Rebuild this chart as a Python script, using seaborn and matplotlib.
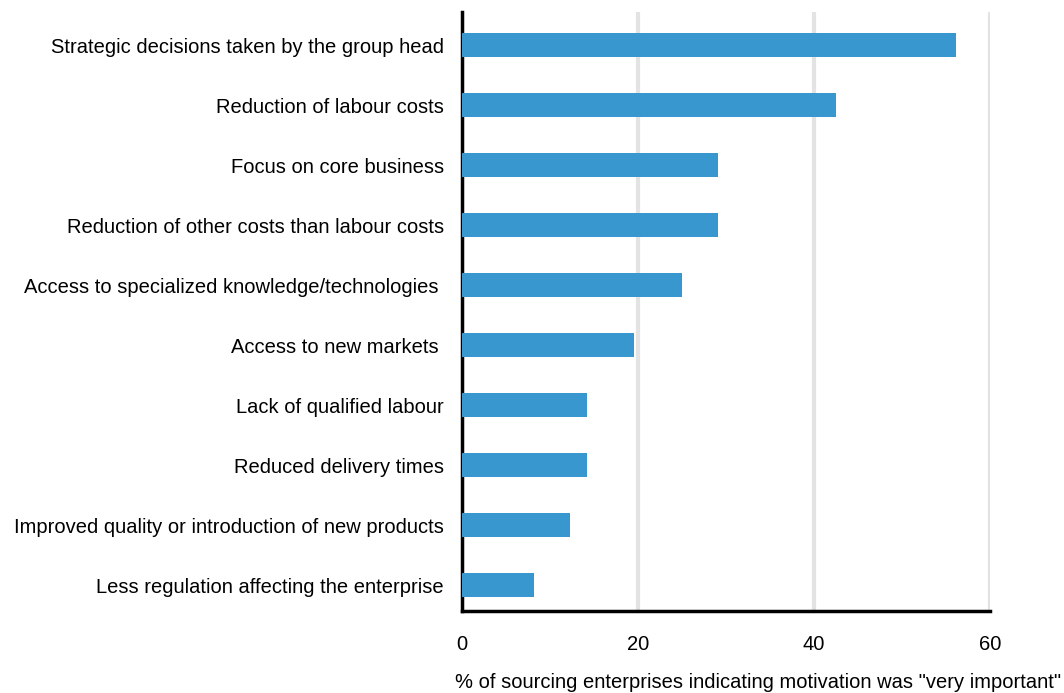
import matplotlib
matplotlib.use('Agg')
import matplotlib.pyplot as plt
import seaborn as sns
import pandas as pd

motivations = [
    'Strategic decisions taken by the group head',
    'Reduction of labour costs',
    'Focus on core business',
    'Reduction of other costs than labour costs',
    'Access to specialized knowledge/technologies ',
    'Access to new markets ',
    'Lack of qualified labour',
    'Reduced delivery times',
    'Improved quality or introduction of new products',
    'Less regulation affecting the enterprise',
]
shares = [56.1, 42.5, 29.1, 29.1, 25.0, 19.6, 14.2, 14.2, 12.3, 8.2]
x_ticks = [0, 20, 40, 60]
x_label = '% of sourcing enterprises indicating motivation was "very important"'

df = pd.DataFrame({'motivation': motivations, 'share': shares})

sns.set_style('white')
plt.rcParams['font.family'] = ['Liberation Sans', 'DejaVu Sans']
plt.rcParams['text.color'] = 'black'
plt.rcParams['xtick.color'] = 'black'
plt.rcParams['ytick.color'] = 'black'

fig = plt.figure(figsize=(10.64, 6.93), dpi=100)
ax = fig.add_axes([462 / 1064, 1 - 611 / 693, (990 - 462) / 1064, (611 - 12) / 693])

sns.barplot(data=df, x='share', y='motivation', color='#3797ce', width=0.4,
            saturation=1, linewidth=0, ax=ax, zorder=3)

ax.set_xlim(0, 60)
ax.set_ylim(9.43, -0.55)
ax.set_xticks(x_ticks)
ax.set_xticklabels([str(t) for t in x_ticks])
ax.grid(axis='x', color='#e3e3e3', linewidth=3, zorder=0)
ax.set_axisbelow(True)
ax.set_xlabel('')
ax.set_ylabel('')
ax.tick_params(axis='both', length=0, labelsize=14.5, labelcolor='black')
ax.tick_params(axis='x', pad=17)
ax.tick_params(axis='y', pad=13)

for side in ['top', 'right']:
    ax.spines[side].set_visible(False)
for side in ['left', 'bottom']:
    ax.spines[side].set_color('black')
    ax.spines[side].set_linewidth(2.5)

fig.text(455 / 1064, 1 - 683 / 693, x_label, ha='left', va='center', fontsize=14.5, color='black')

fig.savefig('out.png', dpi=100)
